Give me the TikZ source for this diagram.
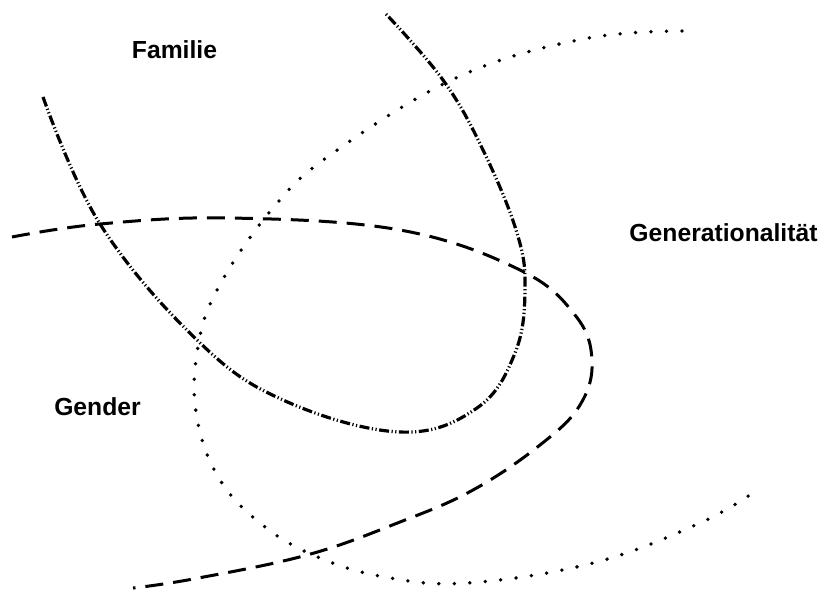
\documentclass[tikz,border=0pt]{standalone}
\usepackage{fontspec}
\setmainfont{Liberation Sans}
\usepackage{tikz}

\begin{document}
\begin{tikzpicture}[x=1pt,y=-1pt,
    label/.style={font=\fontsize{24.7}{28}\selectfont\bfseries, anchor=base, inner sep=0pt},
    familyline/.style={line width=3.2pt, dash pattern=on 10pt off 2.5pt on 1.2pt off 2.5pt on 1.2pt off 2.5pt},
    genderline/.style={line width=3pt, dash pattern=on 18pt off 10pt},
    generationline/.style={line width=3.8pt, line cap=round, dash pattern=on 0pt off 15.5pt}]

        \useasboundingbox[fill=white] (0,0) rectangle (821,589);

        \begin{scope}[every node/.style={label}]
          \node (familie)    at (174.5,58)  {Familie};
          \node (generation) at (723.5,241) {Generationalität};
          \node (gender)     at (97.5,415)  {Gender};
        \end{scope}

        \draw[familyline] plot[smooth, tension=0.65] coordinates {
          (43,97) (100,224) (197,340) (283,400) (400,432) (477,408)
          (515,353) (525,290) (517,233) (483,150) (443,80) (385,13)};

        \draw[genderline] plot[smooth, tension=0.65] coordinates {
          (12,237) (100,224) (230,218) (400,230) (520,270) (575,315)
          (592,360) (580,405) (540,445) (473,490) (400,522) (307,555)
          (193,579) (133,588)};

        \draw[generationline] plot[smooth, tension=0.65] coordinates {
          (682,31) (583,39) (458,77) (333,153) (273,208) (217,290)
          (197,353) (197,418) (220,480) (265,527) (320,558) (385,577)
          (467,583) (593,563) (700,523) (757,490)};

      \end{tikzpicture}
\end{document}
